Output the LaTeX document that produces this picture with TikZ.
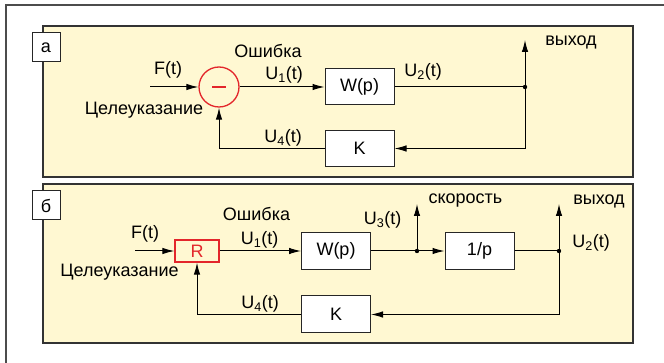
\documentclass[tikz,border=0pt]{standalone}
\usepackage{fontspec}
\setmainfont{Liberation Sans}
\usetikzlibrary{arrows.meta}
\definecolor{paneltint}{HTML}{FFF8D2}
\definecolor{alarmred}{HTML}{E3262B}

\begin{document}
\begin{tikzpicture}[x=1pt,y=-1pt,line width=1pt,
  every node/.style={font=\fontsize{18}{20}\selectfont, inner sep=1pt},
  block/.style={draw=black!85, fill=white, minimum width=69pt, minimum height=36pt, inner sep=0pt},
  tag/.style={draw=black!85, fill=white, minimum width=28pt, minimum height=29pt, inner sep=0pt},
  sig/.style={-{Latex[length=12pt,width=6.5pt]}}]
\useasboundingbox (0,0) rectangle (664,363);
% frame and panels
\draw[gray!60!black, line width=1.5pt] (6,363) -- (6,5) -- (664,5);
\foreach \yt/\yb/\lab/\nm in {26/177/а/A,184/343/б/B}{
  \draw[black!80, fill=paneltint, line width=1.2pt] (43,\yt) rectangle (633,\yb);
  \node[tag] (tag\nm) at (46,\yt+21.5) {\lab};
}
% panel a
\node[circle, draw=alarmred, line width=1.3pt, minimum size=40pt, inner sep=0pt] (sumA) at (219,87) {};
\draw[alarmred, line width=2.6pt] ([xshift=-7pt]sumA.center) -- ([xshift=7pt]sumA.center);
\node[block] (wA) at (359.5,87) {W(p)};
\node[block] (kA) at (359.5,148.5) {K};
\coordinate (inA) at (150,87);
\coordinate (jA) at (525,87);
\coordinate (outA) at (525,40);
\draw[sig] (inA) -- (sumA);
\draw[sig] (sumA) -- (wA);
\draw (wA) -- (jA);
\draw[sig] (jA) -- (outA);
\draw[sig] (jA) |- (kA);
\draw[sig] (kA) -| (sumA);
\fill (jA) circle (2.2pt);
\node (fA) at (168,70) {F(t)};
\node (goalA) at (144,110) {Целеуказание};
\node (errA) at (268,51) {Ошибка};
\node (u1A) at (284,75) {U\textsubscript{1}(t)};
\node (u2A) at (423,72) {U\textsubscript{2}(t)};
\node (u4A) at (283,138) {U\textsubscript{4}(t)};
\node (exitA) at (571,42) {выход};
% panel b
\node[draw=alarmred, text=alarmred, line width=1.3pt, minimum width=44pt, minimum height=22pt, inner sep=0pt] (rB) at (197,251) {R};
\node[block, minimum height=37pt] (wB) at (336,251) {W(p)};
\node[block, minimum height=37pt] (iB) at (479.5,251) {1/p};
\node[block, minimum height=37pt] (kB) at (336,314.5) {K};
\coordinate (inB) at (135,251);
\coordinate (vB) at (417,251);
\coordinate (vupB) at (417,204);
\coordinate (jB) at (559,251);
\coordinate (outB) at (559,204);
\draw[sig] (inB) -- (rB);
\draw[sig] (rB) -- (wB);
\draw (wB) -- (vB);
\draw[sig] (vB) -- (iB);
\draw[sig] (vB) -- (vupB);
\draw (iB) -- (jB);
\draw[sig] (jB) -- (outB);
\draw[sig] (jB) |- (kB);
\draw[sig] (kB) -| (rB);
\fill (vB) circle (2.2pt);
\fill (jB) circle (2.2pt);
\node (fB) at (145,234) {F(t)};
\node (goalB) at (119.5,272) {Целеуказание};
\node (errB) at (256.5,214) {Ошибка};
\node (u1B) at (259.5,240) {U\textsubscript{1}(t)};
\node (u3B) at (382.5,220) {U\textsubscript{3}(t)};
\node (u4B) at (260,304) {U\textsubscript{4}(t)};
\node (speedB) at (465.5,201) {скорость};
\node (exitB) at (599,201) {выход};
\node (u2B) at (591,243) {U\textsubscript{2}(t)};
\end{tikzpicture}
\end{document}
